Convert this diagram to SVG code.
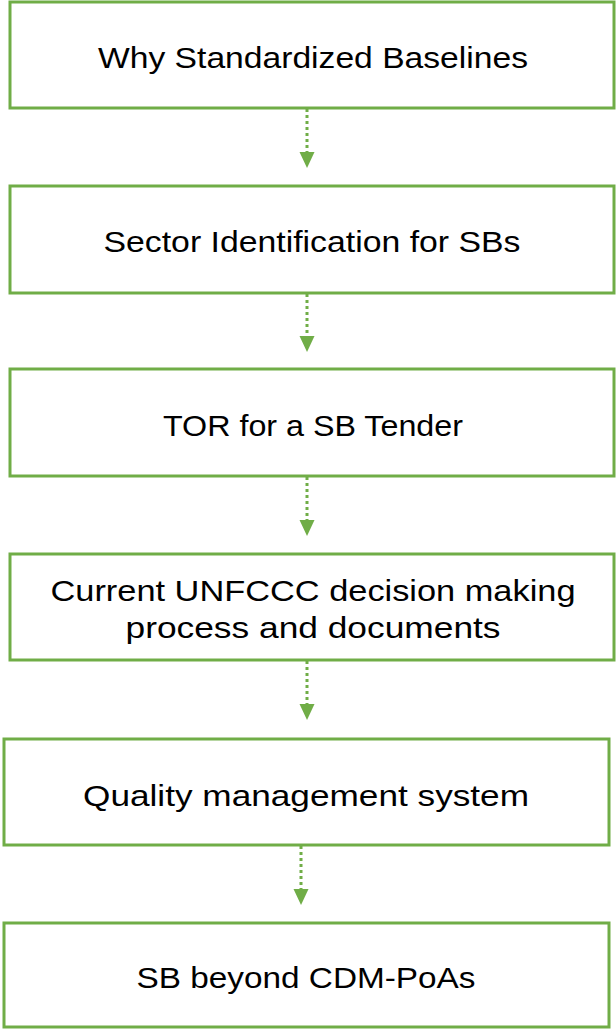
<svg xmlns="http://www.w3.org/2000/svg" width="616" height="1029" viewBox="0 0 616 1029">
<style>
.box{fill:#fff;stroke:#70AD47;stroke-width:3}
.lbl{font-family:"Liberation Sans",Arial,sans-serif;font-size:30px;fill:#000;text-anchor:middle}
.con{stroke:#70AD47;stroke-width:3;stroke-dasharray:3 3;fill:none}
</style>
<defs>
<marker id="ah" markerWidth="15" markerHeight="16" refX="0" refY="0" viewBox="-7.5 0 15 16" markerUnits="userSpaceOnUse" orient="0" overflow="visible">
<path d="M-7.5,0 L7.5,0 L0,16 Z" fill="#70AD47"/>
</marker>
</defs>
<rect width="616" height="1029" fill="#fff"/>
<g id="connectors">
<path class="con" d="M307,109 V152" marker-end="url(#ah)"/>
<path class="con" d="M307,294 V336" marker-end="url(#ah)"/>
<path class="con" d="M307,477 V520" marker-end="url(#ah)"/>
<path class="con" d="M307,661 V704" marker-end="url(#ah)"/>
<path class="con" d="M301,846 V889" marker-end="url(#ah)"/>
</g>
<g id="n1"><rect class="box" x="10" y="2" width="604" height="106"/><text class="lbl" x="313" y="68" textLength="430" lengthAdjust="spacingAndGlyphs">Why Standardized Baselines</text></g>
<g id="n2"><rect class="box" x="10" y="186" width="604" height="107"/><text class="lbl" x="312" y="252" textLength="417" lengthAdjust="spacingAndGlyphs">Sector Identification for SBs</text></g>
<g id="n3"><rect class="box" x="10" y="369" width="604" height="107"/><text class="lbl" x="313" y="436" textLength="300" lengthAdjust="spacingAndGlyphs">TOR for a SB Tender</text></g>
<g id="n4"><rect class="box" x="10" y="554" width="604" height="106"/><text class="lbl" x="313" y="601" textLength="525" lengthAdjust="spacingAndGlyphs">Current UNFCCC decision making</text><text class="lbl" x="313" y="638" textLength="375" lengthAdjust="spacingAndGlyphs">process and documents</text></g>
<g id="n5"><rect class="box" x="4" y="739" width="605" height="106"/><text class="lbl" x="306" y="806" textLength="446" lengthAdjust="spacingAndGlyphs">Quality management system</text></g>
<g id="n6"><rect class="box" x="4" y="923" width="605" height="104"/><text class="lbl" x="306" y="988" textLength="339" lengthAdjust="spacingAndGlyphs">SB beyond CDM-PoAs</text></g>
</svg>
